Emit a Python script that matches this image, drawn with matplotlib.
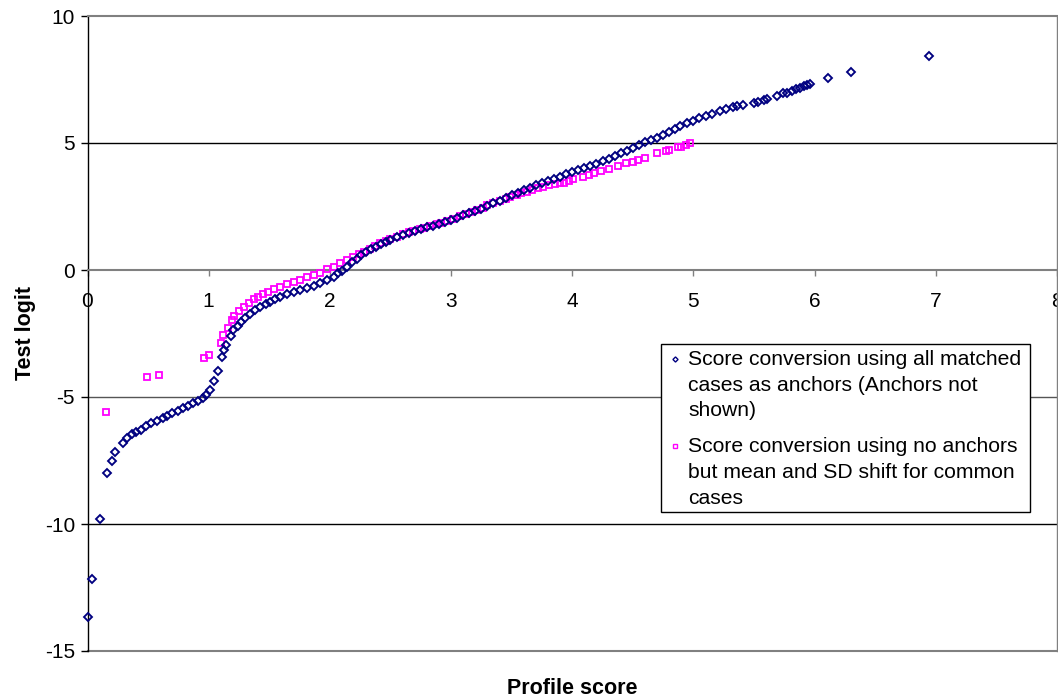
import matplotlib
matplotlib.use("Agg")
import matplotlib.pyplot as plt
from matplotlib.lines import Line2D
from matplotlib.patches import Rectangle

plt.rcParams['font.family'] = ['Liberation Sans', 'DejaVu Sans']

# Score conversion using all matched cases as anchors
anchored_x = [0.00, 0.04, 0.10, 0.16, 0.20, 0.23, 0.29, 0.33, 0.37, 0.40, 0.44, 0.48,
              0.52, 0.57, 0.62, 0.66, 0.70, 0.75, 0.79, 0.83, 0.87, 0.91, 0.95, 0.98,
              1.01, 1.04, 1.08, 1.11, 1.13, 1.14, 1.18, 1.20, 1.24, 1.27, 1.30, 1.34,
              1.38, 1.42, 1.47, 1.51, 1.55, 1.59, 1.645, 1.70, 1.75, 1.81, 1.865, 1.92,
              1.975, 2.03, 2.07, 2.10, 2.14, 2.18, 2.22, 2.26, 2.30, 2.34, 2.38, 2.42,
              2.46, 2.50, 2.55, 2.60, 2.65, 2.70, 2.75, 2.80, 2.85, 2.90, 2.95, 3.00,
              3.05, 3.10, 3.15, 3.20, 3.25, 3.30, 3.35, 3.40, 3.45, 3.50, 3.55, 3.60,
              3.65, 3.70, 3.75, 3.80, 3.85, 3.90, 3.95, 4.00, 4.05, 4.10, 4.15, 4.20,
              4.25, 4.30, 4.35, 4.40, 4.45, 4.50, 4.55, 4.60, 4.65, 4.70, 4.75, 4.80,
              4.85, 4.89, 4.95, 5.00, 5.05, 5.10, 5.15, 5.22, 5.27, 5.33, 5.36, 5.41,
              5.50, 5.53, 5.58, 5.61, 5.69, 5.74, 5.77, 5.81, 5.85, 5.88, 5.91, 5.94,
              5.96, 6.11, 6.30, 6.94]
anchored_y = [-13.65, -12.17, -9.79, -8.00, -7.52, -7.17, -6.80, -6.63, -6.47, -6.36, -6.30, -6.16,
              -6.03, -5.93, -5.84, -5.75, -5.64, -5.55, -5.45, -5.35, -5.25, -5.15, -5.03, -4.93,
              -4.73, -4.38, -3.97, -3.44, -3.15, -2.96, -2.58, -2.37, -2.20, -2.05, -1.90, -1.72,
              -1.57, -1.45, -1.34, -1.25, -1.15, -1.06, -0.96, -0.88, -0.79, -0.70, -0.62, -0.52,
              -0.40, -0.26, -0.12, -0.02, 0.13, 0.30, 0.45, 0.58, 0.70, 0.82, 0.92, 1.02,
              1.12, 1.20, 1.30, 1.38, 1.46, 1.53, 1.60, 1.68, 1.74, 1.80, 1.88, 1.95,
              2.05, 2.15, 2.24, 2.33, 2.42, 2.52, 2.63, 2.73, 2.83, 2.94, 3.04, 3.14,
              3.24, 3.33, 3.42, 3.50, 3.58, 3.67, 3.78, 3.87, 3.94, 4.03, 4.10, 4.19,
              4.28, 4.38, 4.48, 4.59, 4.70, 4.82, 4.93, 5.04, 5.13, 5.21, 5.32, 5.45,
              5.57, 5.67, 5.78, 5.88, 5.97, 6.06, 6.14, 6.27, 6.35, 6.43, 6.47, 6.50,
              6.59, 6.62, 6.68, 6.72, 6.85, 6.96, 6.98, 7.06, 7.12, 7.18, 7.24, 7.28,
              7.32, 7.55, 7.78, 8.44]

# Score conversion using no anchors but mean and SD shift for common cases
shifted_x = [0.15, 0.49, 0.59, 0.96, 1.00, 1.10, 1.12, 1.16, 1.19, 1.21, 1.25, 1.29,
             1.33, 1.37, 1.41, 1.45, 1.49, 1.54, 1.59, 1.65, 1.70, 1.75, 1.81, 1.87,
             1.92, 1.975, 2.03, 2.08, 2.14, 2.19, 2.24, 2.28, 2.33, 2.37, 2.41, 2.46,
             2.50, 2.55, 2.60, 2.65, 2.69, 2.74, 2.78, 2.83, 2.88, 2.92, 2.97, 3.02,
             3.07, 3.12, 3.17, 3.21, 3.26, 3.30, 3.35, 3.40, 3.45, 3.49, 3.54, 3.58,
             3.63, 3.67, 3.72, 3.76, 3.81, 3.86, 3.90, 3.93, 3.97, 4.01, 4.09, 4.14,
             4.18, 4.24, 4.30, 4.38, 4.44, 4.50, 4.54, 4.60, 4.70, 4.77, 4.80, 4.87,
             4.90, 4.94, 4.97]
shifted_y = [-5.60, -4.22, -4.12, -3.45, -3.35, -2.86, -2.57, -2.27, -1.97, -1.80, -1.62, -1.44,
             -1.30, -1.16, -1.05, -0.94, -0.86, -0.76, -0.66, -0.56, -0.48, -0.39, -0.29, -0.20,
             -0.10, 0.03, 0.13, 0.26, 0.39, 0.51, 0.63, 0.72, 0.84, 0.95, 1.05, 1.14,
             1.22, 1.31, 1.40, 1.48, 1.55, 1.61, 1.67, 1.73, 1.80, 1.87, 1.94, 2.02,
             2.12, 2.20, 2.28, 2.36, 2.45, 2.54, 2.63, 2.72, 2.81, 2.89, 2.96, 3.02,
             3.08, 3.15, 3.22, 3.28, 3.33, 3.37, 3.41, 3.44, 3.50, 3.57, 3.65, 3.73,
             3.81, 3.90, 3.96, 4.09, 4.20, 4.26, 4.33, 4.42, 4.62, 4.70, 4.72, 4.83,
             4.86, 4.92, 4.99]

series_labels = ["Score conversion using all matched\ncases as anchors (Anchors not\nshown)",
                 "Score conversion using no anchors\nbut mean and SD shift for common\ncases"]
x_ticks = [0, 1, 2, 3, 4, 5, 6, 7, 8]
y_ticks = [-15, -10, -5, 0, 5, 10]

NAVY = "#000080"
MAGENTA = "#FF00FF"
GRAY = "#808080"

W, H = 1058, 698
fig = plt.figure(figsize=(W / 100, H / 100), dpi=100)


def fx(px):
    return px / W


def fy(py):
    return 1 - py / H


ax = fig.add_axes([fx(87.5), fy(651), fx(1057) - fx(87.5), fy(16) - fy(651)])
ax.set_xlim(0, 8)
ax.set_ylim(-15, 10)

# horizontal gridlines
for yv, col in [(5, "black"), (-5, "#555555"), (-10, "black")]:
    ax.axhline(yv, color=col, lw=1.0, zorder=1)
ax.axhline(-15, color=GRAY, lw=1.5, zorder=1, clip_on=False)

ax.plot(shifted_x, shifted_y, linestyle="none", marker="s", markersize=4.0,
        markerfacecolor="none", markeredgecolor=MAGENTA, markeredgewidth=1.3,
        clip_on=False, zorder=3)
ax.plot(anchored_x, anchored_y, linestyle="none", marker="D", markersize=3.9,
        markerfacecolor="none", markeredgecolor=NAVY, markeredgewidth=1.35,
        clip_on=False, zorder=4)

# spines: value axis on the left, category axis crossing at zero
ax.spines["left"].set_color("black")
ax.spines["left"].set_linewidth(1.0)
ax.spines["bottom"].set_position(("data", 0))
ax.spines["bottom"].set_color(GRAY)
ax.spines["bottom"].set_linewidth(1.5)
ax.spines["top"].set_color(GRAY)
ax.spines["top"].set_linewidth(1.5)
ax.spines["right"].set_color(GRAY)
ax.spines["right"].set_linewidth(1.0)

ax.set_xticks(x_ticks)
ax.set_xticklabels([str(v) for v in x_ticks])
ax.set_yticks(y_ticks)
ax.set_yticklabels([str(v) for v in y_ticks])
ax.tick_params(axis="x", direction="out", length=4, width=1, color=GRAY,
               labelsize=15, pad=12)
ax.tick_params(axis="y", direction="out", length=5, width=1, color="black",
               labelsize=15, pad=4)
for lbl in ax.get_xticklabels():
    lbl.set_clip_on(False)

fig.text(fx(572), fy(688), "Profile score", ha="center", va="center",
         fontsize=15.5, fontweight="bold")
fig.text(fx(25), fy(333), "Test logit", ha="center", va="center",
         rotation=90, fontsize=15.5, fontweight="bold")

# legend box
fig.add_artist(Rectangle((fx(660.5), fy(512)), fx(1030) - fx(660.5), fy(344) - fy(512),
                         transform=fig.transFigure, facecolor="white",
                         edgecolor="black", lw=1.0, zorder=5))
legend_rows = [(359, "D", NAVY, 2.6, series_labels[0]),
               (446, "s", MAGENTA, 2.8, series_labels[1])]
for py, mk, col, ms, label in legend_rows:
    fig.add_artist(Line2D([fx(675)], [fy(py)], transform=fig.transFigure,
                          linestyle="none", marker=mk, markersize=ms,
                          markerfacecolor="none", markeredgecolor=col,
                          markeredgewidth=1.0, zorder=6))
    fig.text(fx(688), fy(py - 9), label, ha="left", va="top", fontsize=15.2,
             linespacing=1.45, zorder=6)

fig.savefig("out.png", dpi=100)
